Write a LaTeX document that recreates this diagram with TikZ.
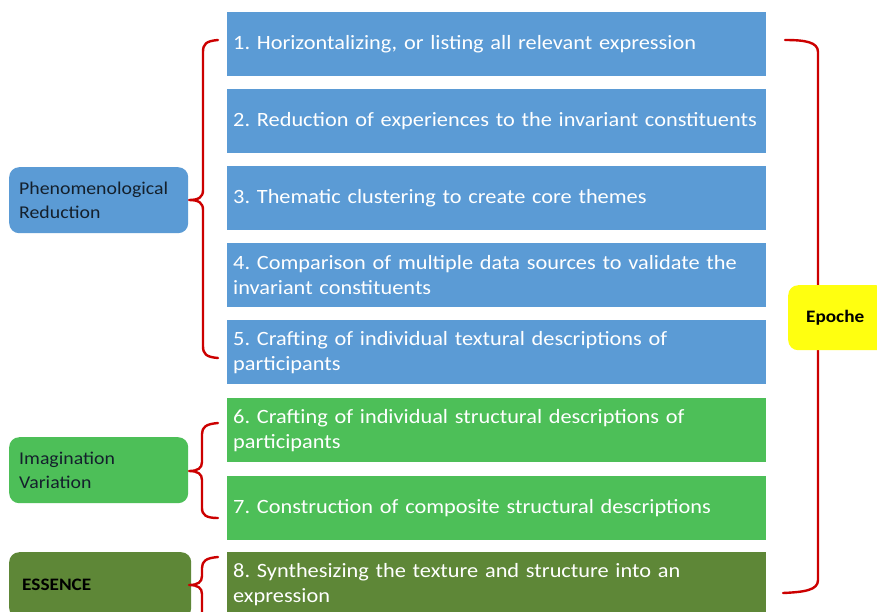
\documentclass[tikz,border=0pt]{standalone}
\usepackage{fontspec}
\setmainfont[FakeStretch=1.1]{Carlito}
\definecolor{boxblue}{HTML}{5B9BD5}
\definecolor{boxgreen}{HTML}{4DBF58}
\definecolor{boxdark}{HTML}{5E8737}
\definecolor{brred}{HTML}{CC0000}
\definecolor{epyellow}{HTML}{FFFF10}
\definecolor{labtext}{HTML}{14202C}
\begin{document}
\frenchspacing
\begin{tikzpicture}[x=1pt,y=-1pt,
  rbox/.style={draw=none, minimum width=539pt, minimum height=64pt, text width=527pt,
    inner xsep=6pt, inner ysep=0pt, align=left, anchor=north west,
    font=\fontsize{20.3}{25}\selectfont, text=white},
  lbox/.style={draw=none, rounded corners=10pt, minimum width=179pt, minimum height=66pt,
    text width=159pt, inner xsep=10pt, inner ysep=0pt, align=left, anchor=north west,
    font=\fontsize{18}{24}\selectfont, text=labtext},
  brk/.style={draw=brred, line width=2.4pt, line cap=round, line join=round}]
\useasboundingbox (0,0) rectangle (877,611);
\clip (0,0) rectangle (877,611);
\fill[white] (0,0) rectangle (877,611);

% right boxes
\node[rbox, fill=boxblue] (r1) at (227,12) {1. Horizontalizing, or listing all relevant expression};
\node[rbox, fill=boxblue] (r2) at (227,89) {2. Reduction of experiences to the invariant constituents};
\node[rbox, fill=boxblue] (r3) at (227,166) {3. Thematic clustering to create core themes};
\node[rbox, fill=boxblue] (r4) at (227,243) {4. Comparison of multiple data sources to validate the\\invariant constituents};
\node[rbox, fill=boxblue] (r5) at (227,320) {5. Crafting of individual textural descriptions of\\participants};
\node[rbox, fill=boxgreen] (r6) at (227,398) {6. Crafting of individual structural descriptions of\\participants};
\node[rbox, fill=boxgreen] (r7) at (227,476) {7. Construction of composite structural descriptions};
\node[rbox, fill=boxdark] (r8) at (227,552) {8. Synthesizing the texture and structure into an\\expression};

% left labels
\node[lbox, fill=boxblue] (pr) at (9,167) {Phenomenological\\Reduction};
\node[lbox, fill=boxgreen] (iv) at (9,437) {Imagination\\Variation};
\node[lbox, fill=boxdark, text=black, text width=156pt, inner xsep=13pt, font=\fontsize{17.5}{24}\selectfont\bfseries] (es) at (9,552) {ESSENCE};

% left braces
\draw[brk] (218,40) .. controls (206,41) and (203,44) .. (203,52) -- (203,190)
  .. controls (203,197) and (199,200) .. (189,200)
  .. controls (199,200) and (203,203) .. (203,210) -- (203,346)
  .. controls (203,354) and (206,357) .. (218,358);
\draw[brk] (218,423) .. controls (206,424) and (202,427) .. (202,434) -- (202,462)
  .. controls (202,468) and (198,471) .. (189,471)
  .. controls (198,471) and (202,474) .. (202,480) -- (202,508)
  .. controls (202,515) and (206,518) .. (218,518);
\draw[brk] (218,557) .. controls (206,558) and (202,561) .. (202,568) -- (202,576)
  .. controls (202,582) and (198,585) .. (189,585)
  .. controls (198,585) and (202,588) .. (202,594) -- (202,640);

% right bracket
\draw[brk] (785,40) .. controls (805,40) and (818,42) .. (818,52) -- (818,580)
  .. controls (818,590) and (805,592) .. (783,593);

% Epoche
\node[draw=none, fill=epyellow, rounded corners=10pt, minimum width=98pt, minimum height=65pt,
  anchor=north west, font=\fontsize{17.5}{20}\selectfont\bfseries, text=black] (ep) at (788,285) {\hspace*{-4pt}Epoche};
\end{tikzpicture}
\end{document}
